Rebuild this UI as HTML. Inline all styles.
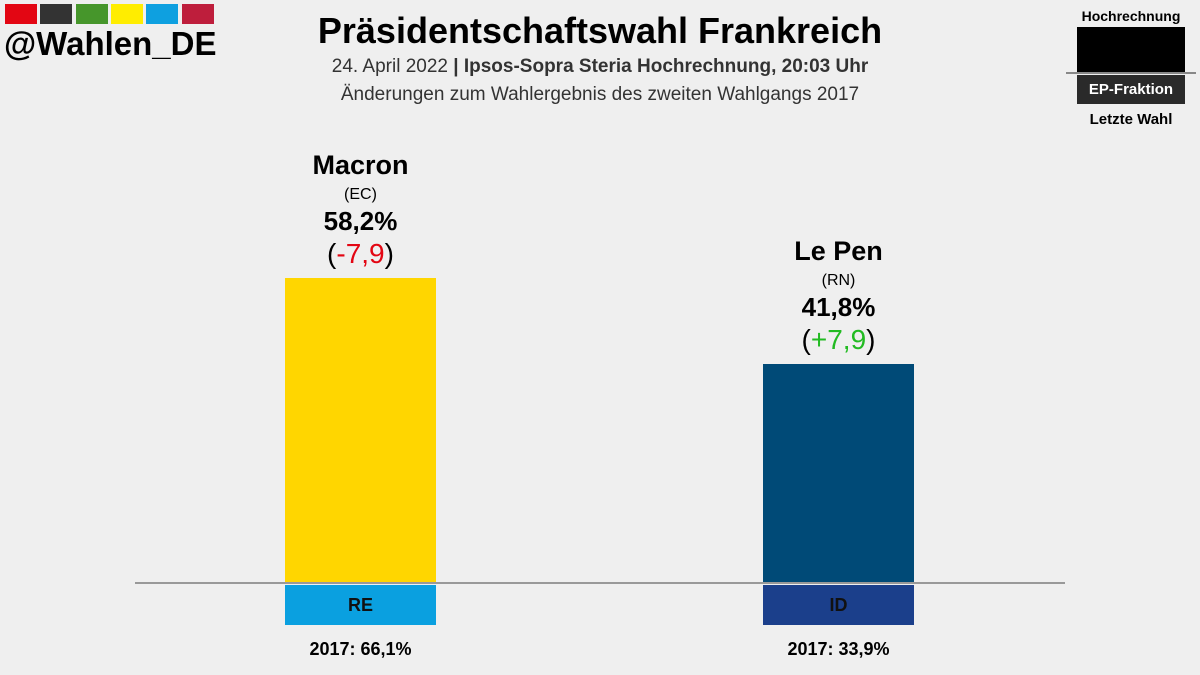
<!DOCTYPE html>
<html><head><meta charset="utf-8"><style>
body{margin:0;width:1200px;height:675px;background:#efefef;font-family:"Liberation Sans",sans-serif;position:relative;overflow:hidden}
.a{position:absolute}
.c{text-align:center}
</style></head><body>
<div class="a" style="left:5px;top:4px">
<span class="a" style="left:0;top:0;width:32px;height:20px;background:#e30613"></span>
<span class="a" style="left:35px;top:0;width:32px;height:20px;background:#333"></span>
<span class="a" style="left:71px;top:0;width:32px;height:20px;background:#46962b"></span>
<span class="a" style="left:106px;top:0;width:32px;height:20px;background:#ffed00"></span>
<span class="a" style="left:141px;top:0;width:32px;height:20px;background:#0ea0e0"></span>
<span class="a" style="left:177px;top:0;width:32px;height:20px;background:#be1e3c"></span>
</div>
<div class="a" style="left:4px;top:25px;font-size:33px;font-weight:bold">@Wahlen_DE</div>
<div class="a c" style="left:250px;width:700px;top:10px;font-size:36px;font-weight:bold">Präsidentschaftswahl Frankreich</div>
<div class="a c" style="left:250px;width:700px;top:56px;font-size:19px;color:#333">24. April 2022 <b>| Ipsos-Sopra Steria Hochrechnung, 20:03 Uhr</b></div>
<div class="a c" style="left:250px;width:700px;top:84px;font-size:19px;color:#333">Änderungen zum Wahlergebnis des zweiten Wahlgangs 2017</div>
<div class="a c" style="left:1066px;width:130px;top:0">
<div class="a c" style="left:0;width:130px;top:8px;font-size:14px;font-weight:bold">Hochrechnung</div>
<div class="a" style="left:11px;top:27px;width:108px;height:46px;background:#000"></div>
<div class="a" style="left:0;top:72px;width:130px;height:2px;background:#888"></div>
<div class="a c" style="left:11px;top:75px;width:108px;height:29px;line-height:29px;background:#2a2a2a;color:#fff;font-size:15px;font-weight:bold">EP-Fraktion</div>
<div class="a c" style="left:0;width:130px;top:111px;font-size:15px;font-weight:bold">Letzte Wahl</div>
</div>
<div id="chart"></div>
<div class="a" style="left:135px;top:582px;width:930px;height:2px;background:#999"></div>
<script>
const candidates=["Macron","Le Pen"];
const parties=["(EC)","(RN)"];
const values=[58.2,41.8];
const changes=[-7.9,7.9];
const groups=["RE","ID"];
const prev=[66.1,33.9];
const colors=["#ffd600","#004a77"];
const gcolors=["#0aa0e0","#1b3f8b"];
const base=583,scale=5.24,xs=[285,763],w=151;
const fmt=v=>v.toFixed(1).replace('.',',');
const root=document.getElementById('chart');
function mk(css,html){const d=document.createElement('div');d.className='a c';d.style.cssText=css;d.innerHTML=html||'';root.appendChild(d);return d;}
candidates.forEach((n,i)=>{
 const h=values[i]*scale,top=base-h,x=xs[i],cx=x+w/2-100;
 let b=mk(`left:${x}px;top:${top}px;width:${w}px;height:${h}px;background:${colors[i]}`);
 
 
 let l=mk(`left:${cx}px;width:200px;top:${top-128}px;font-size:27px;font-weight:bold`,n);
 
 
 let p=mk(`left:${cx}px;width:200px;top:${top-92}px;font-size:16px`,parties[i]);
 
 
 let v=mk(`left:${cx}px;width:200px;top:${top-72}px;font-size:26px;font-weight:bold`,fmt(values[i])+'%');
 
 
 const ch=changes[i];
 let c=mk(`left:${cx}px;width:200px;top:${top-40}px;font-size:28px`,'(<span style="color:'+(ch<0?'#e30613':'#22bb22')+'">'+(ch<0?'-':'+')+fmt(Math.abs(ch))+'</span>)');
 
 
 let g=mk(`left:${x}px;top:585px;width:${w}px;height:40px;line-height:40px;background:${gcolors[i]};font-size:18px;font-weight:bold;color:#111`,groups[i]);
 
 
 let pv=mk(`left:${cx}px;width:200px;top:639px;font-size:18px;font-weight:bold`,'2017: '+fmt(prev[i])+'%');
 
 
});
</script>
</body></html>
